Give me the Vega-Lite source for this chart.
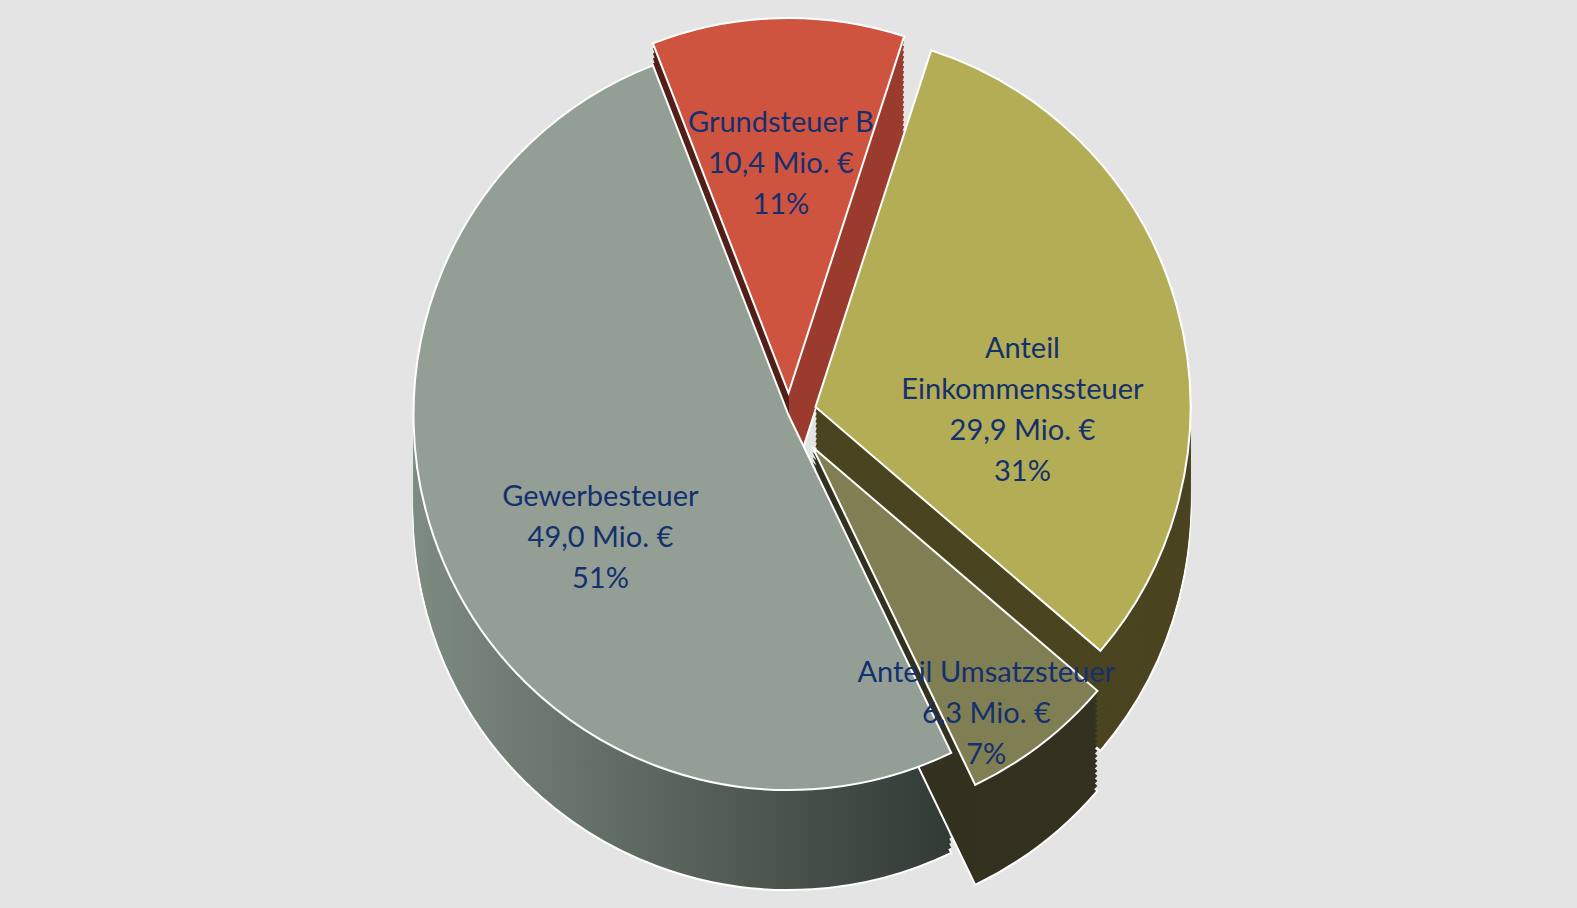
{
  "$schema": "https://vega.github.io/schema/vega-lite/v6.json",
  "width": 1577,
  "height": 830,
  "autosize": "none",
  "padding": {"left": 0, "top": 0, "right": 0, "bottom": 78},
  "background": "#E4E4E4",
  "config": {"view": {"stroke": null}},
  "data": {
    "values": [
      {"Steuer": "Grundsteuer B", "Betrag": 10.4, "Reihenfolge": 1, "Beschriftung": "Grundsteuer B\n10,4 Mio. €\n11%"},
      {"Steuer": "Anteil Einkommenssteuer", "Betrag": 29.9, "Reihenfolge": 2, "Beschriftung": "Anteil\nEinkommenssteuer\n29,9 Mio. €\n31%"},
      {"Steuer": "Anteil Umsatzsteuer", "Betrag": 6.3, "Reihenfolge": 3, "Beschriftung": "Anteil Umsatzsteuer\n6,3 Mio. €\n7%"},
      {"Steuer": "Gewerbesteuer", "Betrag": 49.0, "Reihenfolge": 4, "Beschriftung": "Gewerbesteuer\n49,0 Mio. €\n51%"}
    ]
  },
  "encoding": {
    "theta": {"field": "Betrag", "type": "quantitative", "stack": true, "scale": {"range": [-0.37, 5.9132]}},
    "order": {"field": "Reihenfolge", "type": "quantitative"}
  },
  "layer": [
    {"mark":{"type":"arc","radius":375,"yOffset":78,"stroke":"#FFFFFF","strokeWidth":2,"fill":{"gradient":"linear","x1":0,"x2":1,"y1":0,"y2":0,"stops":[{"offset":0,"color":"#521E18"},{"offset":0.54,"color":"#521E18"},{"offset":0.54,"color":"#9B3B2E"},{"offset":1,"color":"#9B3B2E"}]}},"encoding":{"opacity":{"condition":{"test":"datum.Reihenfolge==1","value":1},"value":0}}},
    {"mark":{"type":"arc","radius":375,"yOffset":73,"fill":{"gradient":"linear","x1":0,"x2":1,"y1":0,"y2":0,"stops":[{"offset":0,"color":"#521E18"},{"offset":0.54,"color":"#521E18"},{"offset":0.54,"color":"#9B3B2E"},{"offset":1,"color":"#9B3B2E"}]}},"encoding":{"opacity":{"condition":{"test":"datum.Reihenfolge==1","value":1},"value":0}}},
    {"mark":{"type":"arc","radius":375,"yOffset":68,"fill":{"gradient":"linear","x1":0,"x2":1,"y1":0,"y2":0,"stops":[{"offset":0,"color":"#521E18"},{"offset":0.54,"color":"#521E18"},{"offset":0.54,"color":"#9B3B2E"},{"offset":1,"color":"#9B3B2E"}]}},"encoding":{"opacity":{"condition":{"test":"datum.Reihenfolge==1","value":1},"value":0}}},
    {"mark":{"type":"arc","radius":375,"yOffset":63,"fill":{"gradient":"linear","x1":0,"x2":1,"y1":0,"y2":0,"stops":[{"offset":0,"color":"#521E18"},{"offset":0.54,"color":"#521E18"},{"offset":0.54,"color":"#9B3B2E"},{"offset":1,"color":"#9B3B2E"}]}},"encoding":{"opacity":{"condition":{"test":"datum.Reihenfolge==1","value":1},"value":0}}},
    {"mark":{"type":"arc","radius":375,"yOffset":58,"fill":{"gradient":"linear","x1":0,"x2":1,"y1":0,"y2":0,"stops":[{"offset":0,"color":"#521E18"},{"offset":0.54,"color":"#521E18"},{"offset":0.54,"color":"#9B3B2E"},{"offset":1,"color":"#9B3B2E"}]}},"encoding":{"opacity":{"condition":{"test":"datum.Reihenfolge==1","value":1},"value":0}}},
    {"mark":{"type":"arc","radius":375,"yOffset":53,"fill":{"gradient":"linear","x1":0,"x2":1,"y1":0,"y2":0,"stops":[{"offset":0,"color":"#521E18"},{"offset":0.54,"color":"#521E18"},{"offset":0.54,"color":"#9B3B2E"},{"offset":1,"color":"#9B3B2E"}]}},"encoding":{"opacity":{"condition":{"test":"datum.Reihenfolge==1","value":1},"value":0}}},
    {"mark":{"type":"arc","radius":375,"yOffset":48,"fill":{"gradient":"linear","x1":0,"x2":1,"y1":0,"y2":0,"stops":[{"offset":0,"color":"#521E18"},{"offset":0.54,"color":"#521E18"},{"offset":0.54,"color":"#9B3B2E"},{"offset":1,"color":"#9B3B2E"}]}},"encoding":{"opacity":{"condition":{"test":"datum.Reihenfolge==1","value":1},"value":0}}},
    {"mark":{"type":"arc","radius":375,"yOffset":43,"fill":{"gradient":"linear","x1":0,"x2":1,"y1":0,"y2":0,"stops":[{"offset":0,"color":"#521E18"},{"offset":0.54,"color":"#521E18"},{"offset":0.54,"color":"#9B3B2E"},{"offset":1,"color":"#9B3B2E"}]}},"encoding":{"opacity":{"condition":{"test":"datum.Reihenfolge==1","value":1},"value":0}}},
    {"mark":{"type":"arc","radius":375,"yOffset":38,"fill":{"gradient":"linear","x1":0,"x2":1,"y1":0,"y2":0,"stops":[{"offset":0,"color":"#521E18"},{"offset":0.54,"color":"#521E18"},{"offset":0.54,"color":"#9B3B2E"},{"offset":1,"color":"#9B3B2E"}]}},"encoding":{"opacity":{"condition":{"test":"datum.Reihenfolge==1","value":1},"value":0}}},
    {"mark":{"type":"arc","radius":375,"yOffset":33,"fill":{"gradient":"linear","x1":0,"x2":1,"y1":0,"y2":0,"stops":[{"offset":0,"color":"#521E18"},{"offset":0.54,"color":"#521E18"},{"offset":0.54,"color":"#9B3B2E"},{"offset":1,"color":"#9B3B2E"}]}},"encoding":{"opacity":{"condition":{"test":"datum.Reihenfolge==1","value":1},"value":0}}},
    {"mark":{"type":"arc","radius":375,"yOffset":28,"fill":{"gradient":"linear","x1":0,"x2":1,"y1":0,"y2":0,"stops":[{"offset":0,"color":"#521E18"},{"offset":0.54,"color":"#521E18"},{"offset":0.54,"color":"#9B3B2E"},{"offset":1,"color":"#9B3B2E"}]}},"encoding":{"opacity":{"condition":{"test":"datum.Reihenfolge==1","value":1},"value":0}}},
    {"mark":{"type":"arc","radius":375,"yOffset":23,"fill":{"gradient":"linear","x1":0,"x2":1,"y1":0,"y2":0,"stops":[{"offset":0,"color":"#521E18"},{"offset":0.54,"color":"#521E18"},{"offset":0.54,"color":"#9B3B2E"},{"offset":1,"color":"#9B3B2E"}]}},"encoding":{"opacity":{"condition":{"test":"datum.Reihenfolge==1","value":1},"value":0}}},
    {"mark":{"type":"arc","radius":375,"yOffset":18,"fill":{"gradient":"linear","x1":0,"x2":1,"y1":0,"y2":0,"stops":[{"offset":0,"color":"#521E18"},{"offset":0.54,"color":"#521E18"},{"offset":0.54,"color":"#9B3B2E"},{"offset":1,"color":"#9B3B2E"}]}},"encoding":{"opacity":{"condition":{"test":"datum.Reihenfolge==1","value":1},"value":0}}},
    {"mark":{"type":"arc","radius":375,"yOffset":13,"fill":{"gradient":"linear","x1":0,"x2":1,"y1":0,"y2":0,"stops":[{"offset":0,"color":"#521E18"},{"offset":0.54,"color":"#521E18"},{"offset":0.54,"color":"#9B3B2E"},{"offset":1,"color":"#9B3B2E"}]}},"encoding":{"opacity":{"condition":{"test":"datum.Reihenfolge==1","value":1},"value":0}}},
    {"mark":{"type":"arc","radius":375,"yOffset":8,"fill":{"gradient":"linear","x1":0,"x2":1,"y1":0,"y2":0,"stops":[{"offset":0,"color":"#521E18"},{"offset":0.54,"color":"#521E18"},{"offset":0.54,"color":"#9B3B2E"},{"offset":1,"color":"#9B3B2E"}]}},"encoding":{"opacity":{"condition":{"test":"datum.Reihenfolge==1","value":1},"value":0}}},
    {"mark":{"type":"arc","radius":375,"yOffset":3,"fill":{"gradient":"linear","x1":0,"x2":1,"y1":0,"y2":0,"stops":[{"offset":0,"color":"#521E18"},{"offset":0.54,"color":"#521E18"},{"offset":0.54,"color":"#9B3B2E"},{"offset":1,"color":"#9B3B2E"}]}},"encoding":{"opacity":{"condition":{"test":"datum.Reihenfolge==1","value":1},"value":0}}},
    {"mark":{"type":"arc","radius":375,"yOffset":-2,"fill":{"gradient":"linear","x1":0,"x2":1,"y1":0,"y2":0,"stops":[{"offset":0,"color":"#521E18"},{"offset":0.54,"color":"#521E18"},{"offset":0.54,"color":"#9B3B2E"},{"offset":1,"color":"#9B3B2E"}]}},"encoding":{"opacity":{"condition":{"test":"datum.Reihenfolge==1","value":1},"value":0}}},
    {"mark":{"type":"arc","radius":375,"yOffset":-7,"fill":{"gradient":"linear","x1":0,"x2":1,"y1":0,"y2":0,"stops":[{"offset":0,"color":"#521E18"},{"offset":0.54,"color":"#521E18"},{"offset":0.54,"color":"#9B3B2E"},{"offset":1,"color":"#9B3B2E"}]}},"encoding":{"opacity":{"condition":{"test":"datum.Reihenfolge==1","value":1},"value":0}}},
    {"mark":{"type":"arc","radius":375,"yOffset":-12,"fill":{"gradient":"linear","x1":0,"x2":1,"y1":0,"y2":0,"stops":[{"offset":0,"color":"#521E18"},{"offset":0.54,"color":"#521E18"},{"offset":0.54,"color":"#9B3B2E"},{"offset":1,"color":"#9B3B2E"}]}},"encoding":{"opacity":{"condition":{"test":"datum.Reihenfolge==1","value":1},"value":0}}},
    {"mark":{"type":"arc","radius":375,"yOffset":-17,"fill":{"gradient":"linear","x1":0,"x2":1,"y1":0,"y2":0,"stops":[{"offset":0,"color":"#521E18"},{"offset":0.54,"color":"#521E18"},{"offset":0.54,"color":"#9B3B2E"},{"offset":1,"color":"#9B3B2E"}]}},"encoding":{"opacity":{"condition":{"test":"datum.Reihenfolge==1","value":1},"value":0}}},

    {"mark":{"type":"arc","radius":375,"yOffset":100,"stroke":"#FFFFFF","strokeWidth":2,"fill":{"gradient":"linear","x1":0,"x2":1,"y1":0,"y2":0,"stops":[{"offset":0,"color":"#7E8B81"},{"offset":1,"color":"#323A35"}]}},"encoding":{"opacity":{"condition":{"test":"datum.Reihenfolge==4","value":1},"value":0}}},
    {"mark":{"type":"arc","radius":375,"yOffset":95,"fill":{"gradient":"linear","x1":0,"x2":1,"y1":0,"y2":0,"stops":[{"offset":0,"color":"#7E8B81"},{"offset":1,"color":"#323A35"}]}},"encoding":{"opacity":{"condition":{"test":"datum.Reihenfolge==4","value":1},"value":0}}},
    {"mark":{"type":"arc","radius":375,"yOffset":90,"fill":{"gradient":"linear","x1":0,"x2":1,"y1":0,"y2":0,"stops":[{"offset":0,"color":"#7E8B81"},{"offset":1,"color":"#323A35"}]}},"encoding":{"opacity":{"condition":{"test":"datum.Reihenfolge==4","value":1},"value":0}}},
    {"mark":{"type":"arc","radius":375,"yOffset":85,"fill":{"gradient":"linear","x1":0,"x2":1,"y1":0,"y2":0,"stops":[{"offset":0,"color":"#7E8B81"},{"offset":1,"color":"#323A35"}]}},"encoding":{"opacity":{"condition":{"test":"datum.Reihenfolge==4","value":1},"value":0}}},
    {"mark":{"type":"arc","radius":375,"yOffset":80,"fill":{"gradient":"linear","x1":0,"x2":1,"y1":0,"y2":0,"stops":[{"offset":0,"color":"#7E8B81"},{"offset":1,"color":"#323A35"}]}},"encoding":{"opacity":{"condition":{"test":"datum.Reihenfolge==4","value":1},"value":0}}},
    {"mark":{"type":"arc","radius":375,"yOffset":75,"fill":{"gradient":"linear","x1":0,"x2":1,"y1":0,"y2":0,"stops":[{"offset":0,"color":"#7E8B81"},{"offset":1,"color":"#323A35"}]}},"encoding":{"opacity":{"condition":{"test":"datum.Reihenfolge==4","value":1},"value":0}}},
    {"mark":{"type":"arc","radius":375,"yOffset":70,"fill":{"gradient":"linear","x1":0,"x2":1,"y1":0,"y2":0,"stops":[{"offset":0,"color":"#7E8B81"},{"offset":1,"color":"#323A35"}]}},"encoding":{"opacity":{"condition":{"test":"datum.Reihenfolge==4","value":1},"value":0}}},
    {"mark":{"type":"arc","radius":375,"yOffset":65,"fill":{"gradient":"linear","x1":0,"x2":1,"y1":0,"y2":0,"stops":[{"offset":0,"color":"#7E8B81"},{"offset":1,"color":"#323A35"}]}},"encoding":{"opacity":{"condition":{"test":"datum.Reihenfolge==4","value":1},"value":0}}},
    {"mark":{"type":"arc","radius":375,"yOffset":60,"fill":{"gradient":"linear","x1":0,"x2":1,"y1":0,"y2":0,"stops":[{"offset":0,"color":"#7E8B81"},{"offset":1,"color":"#323A35"}]}},"encoding":{"opacity":{"condition":{"test":"datum.Reihenfolge==4","value":1},"value":0}}},
    {"mark":{"type":"arc","radius":375,"yOffset":55,"fill":{"gradient":"linear","x1":0,"x2":1,"y1":0,"y2":0,"stops":[{"offset":0,"color":"#7E8B81"},{"offset":1,"color":"#323A35"}]}},"encoding":{"opacity":{"condition":{"test":"datum.Reihenfolge==4","value":1},"value":0}}},
    {"mark":{"type":"arc","radius":375,"yOffset":50,"fill":{"gradient":"linear","x1":0,"x2":1,"y1":0,"y2":0,"stops":[{"offset":0,"color":"#7E8B81"},{"offset":1,"color":"#323A35"}]}},"encoding":{"opacity":{"condition":{"test":"datum.Reihenfolge==4","value":1},"value":0}}},
    {"mark":{"type":"arc","radius":375,"yOffset":45,"fill":{"gradient":"linear","x1":0,"x2":1,"y1":0,"y2":0,"stops":[{"offset":0,"color":"#7E8B81"},{"offset":1,"color":"#323A35"}]}},"encoding":{"opacity":{"condition":{"test":"datum.Reihenfolge==4","value":1},"value":0}}},
    {"mark":{"type":"arc","radius":375,"yOffset":40,"fill":{"gradient":"linear","x1":0,"x2":1,"y1":0,"y2":0,"stops":[{"offset":0,"color":"#7E8B81"},{"offset":1,"color":"#323A35"}]}},"encoding":{"opacity":{"condition":{"test":"datum.Reihenfolge==4","value":1},"value":0}}},
    {"mark":{"type":"arc","radius":375,"yOffset":35,"fill":{"gradient":"linear","x1":0,"x2":1,"y1":0,"y2":0,"stops":[{"offset":0,"color":"#7E8B81"},{"offset":1,"color":"#323A35"}]}},"encoding":{"opacity":{"condition":{"test":"datum.Reihenfolge==4","value":1},"value":0}}},
    {"mark":{"type":"arc","radius":375,"yOffset":30,"fill":{"gradient":"linear","x1":0,"x2":1,"y1":0,"y2":0,"stops":[{"offset":0,"color":"#7E8B81"},{"offset":1,"color":"#323A35"}]}},"encoding":{"opacity":{"condition":{"test":"datum.Reihenfolge==4","value":1},"value":0}}},
    {"mark":{"type":"arc","radius":375,"yOffset":25,"fill":{"gradient":"linear","x1":0,"x2":1,"y1":0,"y2":0,"stops":[{"offset":0,"color":"#7E8B81"},{"offset":1,"color":"#323A35"}]}},"encoding":{"opacity":{"condition":{"test":"datum.Reihenfolge==4","value":1},"value":0}}},
    {"mark":{"type":"arc","radius":375,"yOffset":20,"fill":{"gradient":"linear","x1":0,"x2":1,"y1":0,"y2":0,"stops":[{"offset":0,"color":"#7E8B81"},{"offset":1,"color":"#323A35"}]}},"encoding":{"opacity":{"condition":{"test":"datum.Reihenfolge==4","value":1},"value":0}}},
    {"mark":{"type":"arc","radius":375,"yOffset":15,"fill":{"gradient":"linear","x1":0,"x2":1,"y1":0,"y2":0,"stops":[{"offset":0,"color":"#7E8B81"},{"offset":1,"color":"#323A35"}]}},"encoding":{"opacity":{"condition":{"test":"datum.Reihenfolge==4","value":1},"value":0}}},
    {"mark":{"type":"arc","radius":375,"yOffset":10,"fill":{"gradient":"linear","x1":0,"x2":1,"y1":0,"y2":0,"stops":[{"offset":0,"color":"#7E8B81"},{"offset":1,"color":"#323A35"}]}},"encoding":{"opacity":{"condition":{"test":"datum.Reihenfolge==4","value":1},"value":0}}},
    {"mark":{"type":"arc","radius":375,"yOffset":5,"fill":{"gradient":"linear","x1":0,"x2":1,"y1":0,"y2":0,"stops":[{"offset":0,"color":"#7E8B81"},{"offset":1,"color":"#323A35"}]}},"encoding":{"opacity":{"condition":{"test":"datum.Reihenfolge==4","value":1},"value":0}}},

    {"mark":{"type":"arc","radius":375,"xOffset":27,"yOffset":92,"stroke":"#FFFFFF","strokeWidth":2,"fill":"#4A4420"},"encoding":{"opacity":{"condition":{"test":"datum.Reihenfolge==2","value":1},"value":0}}},
    {"mark":{"type":"arc","radius":375,"xOffset":27,"yOffset":87,"fill":"#4A4420"},"encoding":{"opacity":{"condition":{"test":"datum.Reihenfolge==2","value":1},"value":0}}},
    {"mark":{"type":"arc","radius":375,"xOffset":27,"yOffset":82,"fill":"#4A4420"},"encoding":{"opacity":{"condition":{"test":"datum.Reihenfolge==2","value":1},"value":0}}},
    {"mark":{"type":"arc","radius":375,"xOffset":27,"yOffset":77,"fill":"#4A4420"},"encoding":{"opacity":{"condition":{"test":"datum.Reihenfolge==2","value":1},"value":0}}},
    {"mark":{"type":"arc","radius":375,"xOffset":27,"yOffset":72,"fill":"#4A4420"},"encoding":{"opacity":{"condition":{"test":"datum.Reihenfolge==2","value":1},"value":0}}},
    {"mark":{"type":"arc","radius":375,"xOffset":27,"yOffset":67,"fill":"#4A4420"},"encoding":{"opacity":{"condition":{"test":"datum.Reihenfolge==2","value":1},"value":0}}},
    {"mark":{"type":"arc","radius":375,"xOffset":27,"yOffset":62,"fill":"#4A4420"},"encoding":{"opacity":{"condition":{"test":"datum.Reihenfolge==2","value":1},"value":0}}},
    {"mark":{"type":"arc","radius":375,"xOffset":27,"yOffset":57,"fill":"#4A4420"},"encoding":{"opacity":{"condition":{"test":"datum.Reihenfolge==2","value":1},"value":0}}},
    {"mark":{"type":"arc","radius":375,"xOffset":27,"yOffset":52,"fill":"#4A4420"},"encoding":{"opacity":{"condition":{"test":"datum.Reihenfolge==2","value":1},"value":0}}},
    {"mark":{"type":"arc","radius":375,"xOffset":27,"yOffset":47,"fill":"#4A4420"},"encoding":{"opacity":{"condition":{"test":"datum.Reihenfolge==2","value":1},"value":0}}},
    {"mark":{"type":"arc","radius":375,"xOffset":27,"yOffset":42,"fill":"#4A4420"},"encoding":{"opacity":{"condition":{"test":"datum.Reihenfolge==2","value":1},"value":0}}},
    {"mark":{"type":"arc","radius":375,"xOffset":27,"yOffset":37,"fill":"#4A4420"},"encoding":{"opacity":{"condition":{"test":"datum.Reihenfolge==2","value":1},"value":0}}},
    {"mark":{"type":"arc","radius":375,"xOffset":27,"yOffset":32,"fill":"#4A4420"},"encoding":{"opacity":{"condition":{"test":"datum.Reihenfolge==2","value":1},"value":0}}},
    {"mark":{"type":"arc","radius":375,"xOffset":27,"yOffset":27,"fill":"#4A4420"},"encoding":{"opacity":{"condition":{"test":"datum.Reihenfolge==2","value":1},"value":0}}},
    {"mark":{"type":"arc","radius":375,"xOffset":27,"yOffset":22,"fill":"#4A4420"},"encoding":{"opacity":{"condition":{"test":"datum.Reihenfolge==2","value":1},"value":0}}},
    {"mark":{"type":"arc","radius":375,"xOffset":27,"yOffset":17,"fill":"#4A4420"},"encoding":{"opacity":{"condition":{"test":"datum.Reihenfolge==2","value":1},"value":0}}},
    {"mark":{"type":"arc","radius":375,"xOffset":27,"yOffset":12,"fill":"#4A4420"},"encoding":{"opacity":{"condition":{"test":"datum.Reihenfolge==2","value":1},"value":0}}},
    {"mark":{"type":"arc","radius":375,"xOffset":27,"yOffset":7,"fill":"#4A4420"},"encoding":{"opacity":{"condition":{"test":"datum.Reihenfolge==2","value":1},"value":0}}},
    {"mark":{"type":"arc","radius":375,"xOffset":27,"yOffset":2,"fill":"#4A4420"},"encoding":{"opacity":{"condition":{"test":"datum.Reihenfolge==2","value":1},"value":0}}},
    {"mark":{"type":"arc","radius":375,"xOffset":27,"yOffset":-3,"fill":"#4A4420"},"encoding":{"opacity":{"condition":{"test":"datum.Reihenfolge==2","value":1},"value":0}}},

    {"mark":{"type":"arc","radius":375,"xOffset":24,"yOffset":132,"stroke":"#FFFFFF","strokeWidth":2,"fill":"#33311F"},"encoding":{"opacity":{"condition":{"test":"datum.Reihenfolge==3","value":1},"value":0}}},
    {"mark":{"type":"arc","radius":375,"xOffset":24,"yOffset":127,"fill":"#33311F"},"encoding":{"opacity":{"condition":{"test":"datum.Reihenfolge==3","value":1},"value":0}}},
    {"mark":{"type":"arc","radius":375,"xOffset":24,"yOffset":122,"fill":"#33311F"},"encoding":{"opacity":{"condition":{"test":"datum.Reihenfolge==3","value":1},"value":0}}},
    {"mark":{"type":"arc","radius":375,"xOffset":24,"yOffset":117,"fill":"#33311F"},"encoding":{"opacity":{"condition":{"test":"datum.Reihenfolge==3","value":1},"value":0}}},
    {"mark":{"type":"arc","radius":375,"xOffset":24,"yOffset":112,"fill":"#33311F"},"encoding":{"opacity":{"condition":{"test":"datum.Reihenfolge==3","value":1},"value":0}}},
    {"mark":{"type":"arc","radius":375,"xOffset":24,"yOffset":107,"fill":"#33311F"},"encoding":{"opacity":{"condition":{"test":"datum.Reihenfolge==3","value":1},"value":0}}},
    {"mark":{"type":"arc","radius":375,"xOffset":24,"yOffset":102,"fill":"#33311F"},"encoding":{"opacity":{"condition":{"test":"datum.Reihenfolge==3","value":1},"value":0}}},
    {"mark":{"type":"arc","radius":375,"xOffset":24,"yOffset":97,"fill":"#33311F"},"encoding":{"opacity":{"condition":{"test":"datum.Reihenfolge==3","value":1},"value":0}}},
    {"mark":{"type":"arc","radius":375,"xOffset":24,"yOffset":92,"fill":"#33311F"},"encoding":{"opacity":{"condition":{"test":"datum.Reihenfolge==3","value":1},"value":0}}},
    {"mark":{"type":"arc","radius":375,"xOffset":24,"yOffset":87,"fill":"#33311F"},"encoding":{"opacity":{"condition":{"test":"datum.Reihenfolge==3","value":1},"value":0}}},
    {"mark":{"type":"arc","radius":375,"xOffset":24,"yOffset":82,"fill":"#33311F"},"encoding":{"opacity":{"condition":{"test":"datum.Reihenfolge==3","value":1},"value":0}}},
    {"mark":{"type":"arc","radius":375,"xOffset":24,"yOffset":77,"fill":"#33311F"},"encoding":{"opacity":{"condition":{"test":"datum.Reihenfolge==3","value":1},"value":0}}},
    {"mark":{"type":"arc","radius":375,"xOffset":24,"yOffset":72,"fill":"#33311F"},"encoding":{"opacity":{"condition":{"test":"datum.Reihenfolge==3","value":1},"value":0}}},
    {"mark":{"type":"arc","radius":375,"xOffset":24,"yOffset":67,"fill":"#33311F"},"encoding":{"opacity":{"condition":{"test":"datum.Reihenfolge==3","value":1},"value":0}}},
    {"mark":{"type":"arc","radius":375,"xOffset":24,"yOffset":62,"fill":"#33311F"},"encoding":{"opacity":{"condition":{"test":"datum.Reihenfolge==3","value":1},"value":0}}},
    {"mark":{"type":"arc","radius":375,"xOffset":24,"yOffset":57,"fill":"#33311F"},"encoding":{"opacity":{"condition":{"test":"datum.Reihenfolge==3","value":1},"value":0}}},
    {"mark":{"type":"arc","radius":375,"xOffset":24,"yOffset":52,"fill":"#33311F"},"encoding":{"opacity":{"condition":{"test":"datum.Reihenfolge==3","value":1},"value":0}}},
    {"mark":{"type":"arc","radius":375,"xOffset":24,"yOffset":47,"fill":"#33311F"},"encoding":{"opacity":{"condition":{"test":"datum.Reihenfolge==3","value":1},"value":0}}},
    {"mark":{"type":"arc","radius":375,"xOffset":24,"yOffset":42,"fill":"#33311F"},"encoding":{"opacity":{"condition":{"test":"datum.Reihenfolge==3","value":1},"value":0}}},
    {"mark":{"type":"arc","radius":375,"xOffset":24,"yOffset":37,"fill":"#33311F"},"encoding":{"opacity":{"condition":{"test":"datum.Reihenfolge==3","value":1},"value":0}}},

    {"mark":{"type":"arc","radius":375,"xOffset":0,"yOffset":0,"stroke":"#FFFFFF","strokeWidth":2,"fill":"#939F95"},"encoding":{"opacity":{"condition":{"test":"datum.Reihenfolge==4","value":1},"value":0}}},
    {"mark":{"type":"arc","radius":375,"xOffset":0,"yOffset":-22,"stroke":"#FFFFFF","strokeWidth":2,"fill":"#CF5440"},"encoding":{"opacity":{"condition":{"test":"datum.Reihenfolge==1","value":1},"value":0}}},
    {"mark":{"type":"arc","radius":375,"xOffset":27,"yOffset":-8,"stroke":"#FFFFFF","strokeWidth":2,"fill":"#B3AD55"},"encoding":{"opacity":{"condition":{"test":"datum.Reihenfolge==2","value":1},"value":0}}},
    {"mark":{"type":"arc","radius":375,"xOffset":24,"yOffset":32,"stroke":"#FFFFFF","strokeWidth":2,"fill":"#807E53"},"encoding":{"opacity":{"condition":{"test":"datum.Reihenfolge==3","value":1},"value":0}}},

    {"mark":{"type":"text","radius":205,"xOffset":0,"yOffset":0,"font":"Lato","fontSize":29,"lineHeight":41,"lineBreak":"\n","align":"center","baseline":"middle","color":"#14306E"},"encoding":{"text":{"field":"Beschriftung"},"opacity":{"condition":{"test":"datum.Reihenfolge==4","value":1},"value":0}}},
    {"mark":{"type":"text","radius":270,"xOffset":0,"yOffset":-22,"font":"Lato","fontSize":29,"lineHeight":41,"lineBreak":"\n","align":"center","baseline":"middle","color":"#14306E"},"encoding":{"text":{"field":"Beschriftung"},"opacity":{"condition":{"test":"datum.Reihenfolge==1","value":1},"value":0}}},
    {"mark":{"type":"text","radius":215,"xOffset":27,"yOffset":-8,"font":"Lato","fontSize":29,"lineHeight":41,"lineBreak":"\n","align":"center","baseline":"middle","color":"#14306E"},"encoding":{"text":{"field":"Beschriftung"},"opacity":{"condition":{"test":"datum.Reihenfolge==2","value":1},"value":0}}},
    {"mark":{"type":"text","radius":285,"xOffset":24,"yOffset":32,"font":"Lato","fontSize":29,"lineHeight":41,"lineBreak":"\n","align":"center","baseline":"middle","color":"#14306E"},"encoding":{"text":{"field":"Beschriftung"},"opacity":{"condition":{"test":"datum.Reihenfolge==3","value":1},"value":0}}}
  ]
}
